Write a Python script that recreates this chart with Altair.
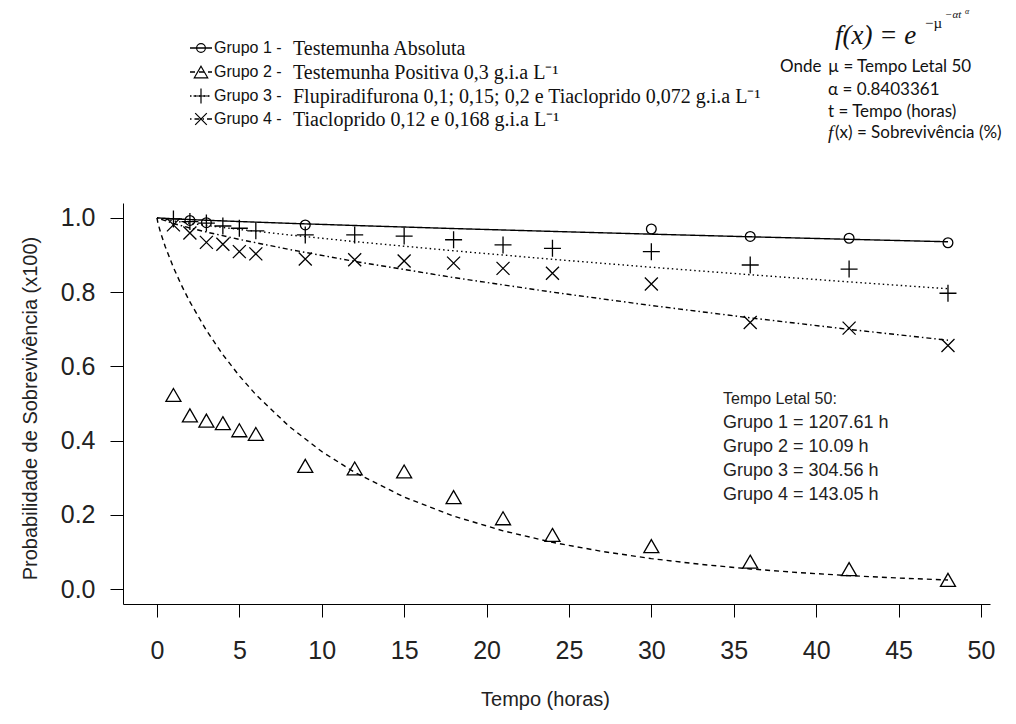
import altair as alt
import pandas as pd

# ---------------- data ----------------
groups = ["Grupo 1", "Grupo 2", "Grupo 3", "Grupo 4"]

t_obs = [1, 2, 3, 4, 5, 6, 9, 12, 15, 18, 21, 24, 30, 36, 42, 48]
t_obs_g1 = [2, 3, 9, 30, 36, 42, 48]
s_obs_g1 = [0.993, 0.987, 0.981, 0.970, 0.950, 0.945, 0.933]
s_obs_g2 = [0.523, 0.468, 0.454, 0.447, 0.428, 0.418, 0.332, 0.325, 0.317,
            0.248, 0.191, 0.146, 0.116, 0.074, 0.054, 0.025]
s_obs_g3 = [0.997, 0.990, 0.986, 0.978, 0.972, 0.965, 0.954, 0.954, 0.951,
            0.941, 0.927, 0.918, 0.909, 0.873, 0.862, 0.797]
s_obs_g4 = [0.981, 0.959, 0.934, 0.929, 0.909, 0.903, 0.889, 0.887, 0.884,
            0.878, 0.864, 0.851, 0.822, 0.718, 0.703, 0.656]

# fitted curves
t_fit = [0, 1, 2, 3, 5, 8, 12, 18, 24, 30, 36, 42, 48]
s_fit_g1 = [1.0, 0.9974, 0.9954, 0.9935, 0.9901, 0.9853, 0.9794, 0.9712,
            0.9635, 0.9561, 0.9490, 0.9422, 0.9356]
s_fit_g3 = [1.0, 0.9918, 0.9854, 0.9796, 0.9688, 0.9541, 0.9360, 0.9113,
            0.8884, 0.8670, 0.8468, 0.8275, 0.8091]
s_fit_g4 = [1.0, 0.9847, 0.9727, 0.9618, 0.9420, 0.9151, 0.8827, 0.8392,
            0.7999, 0.7639, 0.7307, 0.6996, 0.6705]
t_fit_g2 = [0, 0.05, 0.1, 0.25, 0.5, 1, 1.5, 2, 3, 4, 5, 6, 8, 10, 12, 15,
            18, 21, 24, 27, 30, 33, 36, 39, 42, 45, 48]
s_fit_g2 = [1.0, 0.9885, 0.9795, 0.9562, 0.9230, 0.8663, 0.8173, 0.7735,
            0.6970, 0.6315, 0.5744, 0.5240, 0.4391, 0.3706, 0.3145, 0.2478,
            0.1967, 0.1571, 0.1261, 0.1017, 0.0823, 0.0668, 0.0544, 0.0444,
            0.0364, 0.0299, 0.0246]

x_ticks = [0, 5, 10, 15, 20, 25, 30, 35, 40, 45, 50]
y_ticks = [0.0, 0.2, 0.4, 0.6, 0.8, 1.0]

legend_sans = ["Grupo 1 -", "Grupo 2 -", "Grupo 3 -", "Grupo 4 -"]
legend_serif = ["Testemunha Absoluta",
                "Testemunha Positiva 0,3 g.i.a L\u207b\u00b9",
                "Flupiradifurona 0,1; 0,15; 0,2 e Tiacloprido 0,072 g.i.a L\u207b\u00b9",
                "Tiacloprido 0,12 e 0,168 g.i.a L\u207b\u00b9"]
lt50_lines = ["Tempo Letal 50:", "Grupo 1 = 1207.61 h", "Grupo 2 = 10.09 h",
              "Grupo 3 = 304.56 h", "Grupo 4 = 143.05 h"]
onde_lines = ["\u00b5 = Tempo Letal 50", "\u03b1 = 0.8403361",
              "t = Tempo (horas)", "(x) = Sobreviv\u00eancia (%)"]

# ---------------- tables ----------------
obs_sets = [(t_obs_g1, s_obs_g1), (t_obs, s_obs_g2), (t_obs, s_obs_g3), (t_obs, s_obs_g4)]
fit_sets = [(t_fit, s_fit_g1), (t_fit_g2, s_fit_g2), (t_fit, s_fit_g3), (t_fit, s_fit_g4)]

TRI = "M0,-0.866L1,0.866L-1,0.866Z"
PLUS = "M-1,0L1,0M0,-1L0,1"
CROSS = "M-1,-1L1,1M-1,1L1,-1"
shapes = ["circle", TRI, PLUS, CROSS]
sizes = [95, 225, 289, 169]
dashes = [[1, 0], [5, 4], [1.5, 3], [1.5, 3, 5, 3]]

# ---------------- layout ----------------
X0, Y0 = 123, 203   # plot-area origin on the page
W, H = 867, 401

def px(x):
    return x - X0

def py(y):
    return y - Y0

SANS = "Liberation Sans"
SERIF = "Liberation Serif"
CAL = "Lato"

xscale = alt.Scale(domain=[-2.06, 50.55], nice=False, zero=False)
yscale = alt.Scale(domain=[-0.04, 1.04], nice=False, zero=False)

xaxis = alt.Axis(values=x_ticks, format="d", tickSize=13, labelPadding=33,
                 labelBaseline="middle", labelFontSize=25, labelFont=SANS,
                 labelColor="#222", domainColor="black", tickColor="black",
                 grid=False, labelFlush=False, labelOverlap=False,
                 title="Tempo (horas)", titleFont=SANS, titleFontSize=20,
                 titleFontWeight="normal", titleColor="#222",
                 titleX=px(545), titleY=95, titleBaseline="middle",
                 titleAlign="center")
yaxis = alt.Axis(values=y_ticks, format=".1f", tickSize=13, labelPadding=15,
                 labelFontSize=25, labelFont=SANS, labelColor="#222",
                 domainColor="black", tickColor="black", grid=False,
                 labelFlush=False, labelOverlap=False,
                 title="Probabilidade de Sobreviv\u00eancia (x100)",
                 titleFont=SANS, titleFontSize=20, titleFontWeight="normal",
                 titleColor="#222", titleX=px(30), titleY=py(408),
                 titleBaseline="middle", titleAlign="center", titleAngle=-90)

layers = []
for i, g in enumerate(groups):
    tf, sf = fit_sets[i]
    df_fit = pd.DataFrame({"t": tf, "s": sf})
    layers.append(
        alt.Chart(df_fit).mark_line(color="black", strokeWidth=1.4,
                                    strokeDash=dashes[i]).encode(
            x=alt.X("t:Q", scale=xscale, axis=xaxis),
            y=alt.Y("s:Q", scale=yscale, axis=yaxis),
            order="t:Q")
    )
for i, g in enumerate(groups):
    to, so = obs_sets[i]
    df_obs = pd.DataFrame({"t": to, "s": so})
    layers.append(
        alt.Chart(df_obs).mark_point(shape=shapes[i], size=sizes[i], filled=False,
                                     color="black", strokeWidth=1.3, opacity=1).encode(
            x=alt.X("t:Q", scale=xscale, axis=xaxis),
            y=alt.Y("s:Q", scale=yscale, axis=yaxis))
    )

one = pd.DataFrame({"k": [0]})

def text(s, x, y, font, size, align="left", style="normal", color="#111"):
    return alt.Chart(one).mark_text(text=s, font=font, fontSize=size, align=align,
                                    baseline="middle", fontStyle=style,
                                    color=color).encode(
        x=alt.value(px(x)), y=alt.value(py(y)))

# legend (manual, mixed fonts)
leg_y = [48, 72, 96, 119]
for i in range(4):
    yy = leg_y[i]
    layers.append(alt.Chart(one).mark_rule(color="black", strokeWidth=1.3,
                                           strokeDash=dashes[i]).encode(
        x=alt.value(px(190)), x2=alt.value(px(212)), y=alt.value(py(yy))))
    layers.append(alt.Chart(one).mark_point(shape=shapes[i], size=sizes[i] * 0.8,
                                            filled=False, color="black",
                                            strokeWidth=1.2, opacity=1).encode(
        x=alt.value(px(201)), y=alt.value(py(yy))))
    layers.append(text(legend_sans[i], 214, yy, SANS, 16))
    layers.append(text(legend_serif[i], 293, yy + 1, SERIF, 20))

# formula
layers.append(text("f(x) = e", 835, 36, SERIF, 27, style="italic"))
layers.append(text("\u2212\u00b5", 925, 23, SERIF, 15))
layers.append(text("\u2212\u03b1t", 945, 15, SERIF, 11, style="italic"))
layers.append(text("\u03b1", 965, 12, SERIF, 8, style="italic"))

# "Onde" block
onde_y = [67, 90, 112, 133]
layers.append(text("Onde", 780, onde_y[0], CAL, 17))
for i, s in enumerate(onde_lines):
    layers.append(text(s, 835 if i == 3 else 828, onde_y[i], CAL, 17))
layers.append(text("f", 828, onde_y[3], SERIF, 19, style="italic"))

# Tempo Letal 50 block
lt_y = [399, 423, 447, 471, 495]
for i, s in enumerate(lt50_lines):
    layers.append(text(s, 723, lt_y[i], SANS, 16 if i == 0 else 18, color="#222"))

chart = alt.layer(*layers).properties(
    width=W, height=H,
    padding={"left": X0 - 8, "top": Y0 - 8, "right": 18, "bottom": 106},
    autosize=alt.AutoSizeParams(type="none"),
    background="white",
).configure_view(stroke=None)

chart.save("out.html", embed_options={"renderer": "svg", "actions": False})
